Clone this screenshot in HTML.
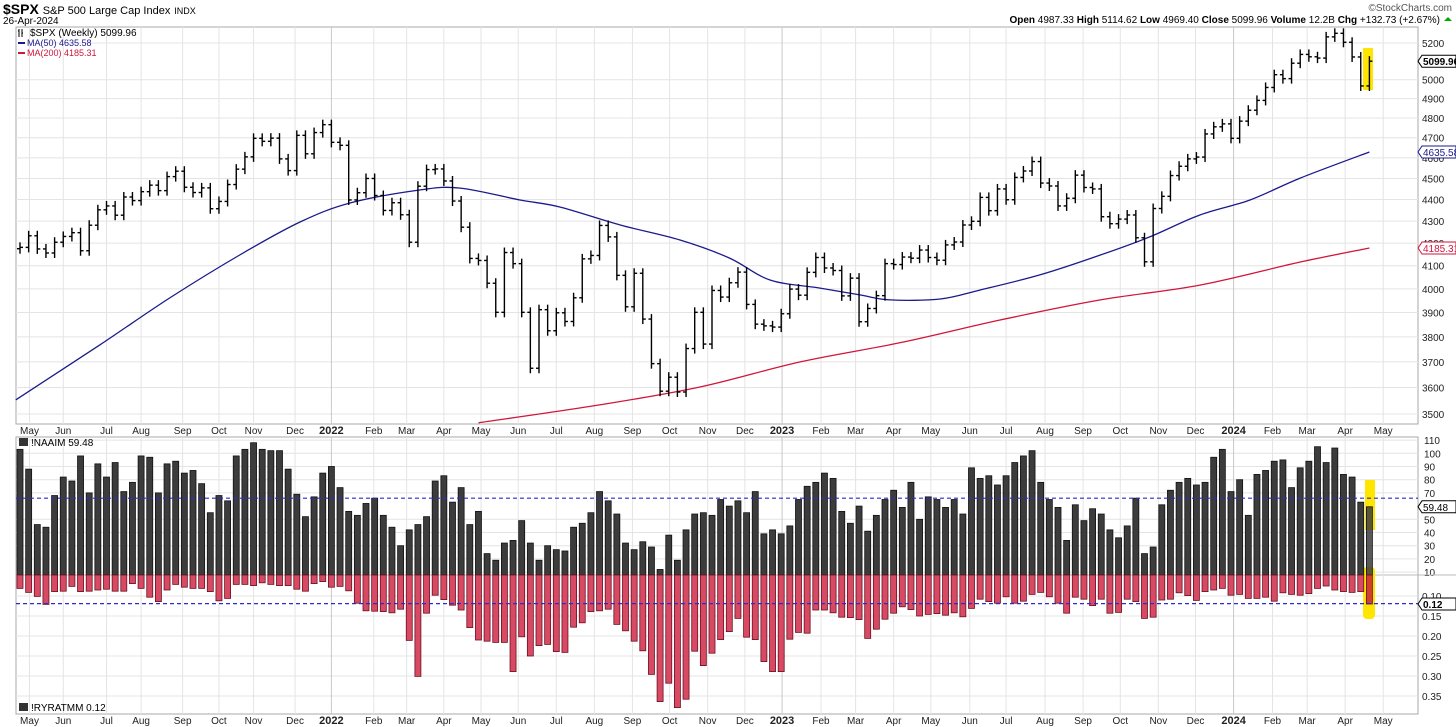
<!DOCTYPE html>
<html><head><meta charset="utf-8">
<style>
html,body{margin:0;padding:0;background:#fff;width:1456px;height:727px;overflow:hidden}
svg text{font-family:"Liberation Sans",sans-serif}
</style></head>
<body>
<svg id="chart" width="1456" height="727" viewBox="0 0 1456 727" xmlns="http://www.w3.org/2000/svg">
<rect x="0" y="0" width="1456" height="727" fill="#fff"/>
<g>
<text x="3" y="14" font-size="14" font-weight="bold" fill="#000">$SPX <tspan font-size="11" font-weight="normal">S&amp;P 500 Large Cap Index</tspan> <tspan font-size="9" font-weight="normal">INDX</tspan></text>
<text x="3" y="24" font-size="10" fill="#000">26-Apr-2024</text>
<text x="1452" y="11" font-size="10" fill="#555" text-anchor="end">©StockCharts.com</text>
<text x="1440" y="23" font-size="10" fill="#000" text-anchor="end"><tspan font-weight="bold">Open</tspan> 4987.33 <tspan font-weight="bold">High</tspan> 5114.62 <tspan font-weight="bold">Low</tspan> 4969.40 <tspan font-weight="bold">Close</tspan> 5099.96 <tspan font-weight="bold">Volume</tspan> 12.2B <tspan font-weight="bold">Chg</tspan> +132.73 (+2.67%)</text>
<polygon points="1444,21 1452,21 1448,17" fill="#0a0"/>
</g>
<g id="grid"></g>
<g id="marks"></g>
<g id="overlay"></g>
</svg>
<script>
// ---- data ----
const closes=[4181,4233,4174,4156,4204,4230,4247,4166,4281,4352,4370,4327,4412,4395,4437,4468,4442,4509,4535,4458,4433,4455,4357,4391,4471,4545,4605,4697,4682,4698,4595,4538,4712,4620,4726,4766,
4677,4662,4398,4432,4500,4419,4349,4385,4329,4204,4463,4543,4546,4488,4393,4272,4132,4123,4024,3901,4158,4109,3901,3675,3912,3825,3899,3863,3962,4130,4145,4280,4228,4058,3924,4067,3873,3693,3586,3640,3583,3753,3901,3771,3993,3965,4026,4072,3934,3852,3845,3840,
3895,3999,3973,4071,4136,4090,4079,3970,4046,3862,3917,3971,4109,4105,4138,4133,4169,4136,4124,4192,4205,4282,4299,4410,4348,4450,4399,4505,4536,4582,4478,4464,4370,4406,4516,4457,4450,4320,4288,4309,4328,4224,4117,4358,4415,4514,4559,4595,4604,4719,4755,4770,
4697,4784,4840,4891,4959,5027,5006,5089,5137,5124,5117,5234,5254,5204,5123,4967,5100];
const firstOpen=4175;
const ma50Weeks=[-0.5,9.2,17.3,25.4,32.4,38.2,46.2,50.9,57.8,62.4,69.4,76.3,82,86.7,92.5,97.1,100.6,106.4,111,117.9,124.9,130.6,136.4,142.2,148,156];
const ma50Vals=[3553,3767,3961,4147,4296,4384,4445,4454,4398,4365,4282,4214,4134,4038,4003,3974,3953,3957,3995,4060,4147,4228,4328,4398,4502,4629];
const ma200Weeks=[53,67,78.6,90.2,101.7,113.3,124.9,136.4,148,156];
const ma200Vals=[3467,3534,3602,3700,3776,3869,3953,4016,4116,4178];
const naaim=[103,88,46,44,68,82,79,98,70,92,82,93,71,78,98,97,70,92,94,85,87,77,55,68,64,98,103,108,103,102,102,88,69,52,67,85,90,74,56,53,62,66,53,44,30,42,46,52,79,83,63,74,46,56,
24,19,32,34,49,32,19,30,27,26,44,47,55,71,64,54,32,27,33,29,12,38,19,42,54,55,53,65,60,64,55,71,39,42,39,45,65,75,78,85,81,56,47,60,41,53,65,72,59,78,50,67,65,
59,65,54,89,81,83,76,83,93,98,102,78,65,59,34,61,49,58,54,42,36,45,66,24,29,61,72,78,81,76,78,97,103,71,80,53,84,87,94,95,74,89,94,105,93,104,84,82,63,59.48];
const ryrat=[.081,.091,.101,.121,.089,.088,.076,.089,.088,.085,.083,.088,.088,.069,.081,.103,.114,.085,.071,.078,.081,.081,.089,.112,.106,.071,.071,.074,.067,.071,.074,.074,.083,.088,.069,.064,.078,.076,.087,.118,.137,.138,.139,.142,.133,.211,.301,.143,.098,.109,.123,.135,.179,.210,
.213,.216,.216,.289,.202,.250,.224,.221,.239,.241,.178,.167,.139,.137,.133,.171,.187,.213,.237,.296,.364,.318,.379,.358,.238,.274,.243,.209,.189,.156,.203,.209,.264,.289,.289,.208,.191,.193,.135,.135,.142,.153,.154,.159,.206,.183,.158,.143,.127,.134,.150,.146,.144,
.148,.142,.152,.131,.108,.114,.118,.102,.118,.113,.096,.091,.102,.118,.143,.103,.108,.124,.108,.143,.141,.108,.114,.156,.153,.110,.108,.092,.099,.111,.089,.085,.081,.098,.096,.106,.106,.103,.113,.092,.096,.098,.094,.081,.075,.085,.089,.091,.089,.12];
const priceTicks=[5200,5000,4900,4800,4700,4600,4500,4400,4300,4200,4100,4000,3900,3800,3700,3600,3500];
const naaimTicks=[110,100,90,80,70,50,40,30,20,10];
const ryratTicks=[0.10,0.15,0.20,0.25,0.30,0.35];
const monthLabels=["May","Jun","Jul","Aug","Sep","Oct","Nov","Dec","2022","Feb","Mar","Apr","May","Jun","Jul","Aug","Sep","Oct","Nov","Dec","2023","Feb","Mar","Apr","May","Jun","Jul","Aug","Sep","Oct","Nov","Dec","2024","Feb","Mar","Apr","May"];
const monthWeeks=[1.1,5,10,14,18.8,23,27,31.8,36,40.9,44.7,49,53.3,57.6,62,66.4,70.8,75.1,79.5,83.8,88.1,92.6,96.6,101,105.3,109.8,114,118.5,122.9,127.2,131.6,135.9,140.3,144.8,148.8,153.2,157.6];
const naaimRef=66, ryratRef=0.119;

// ---- scales ----
const xW=i=>20+i*8.65;
const yP=p=>43+937*Math.log(5200/p);
const yN=v=>585.3-1.32*v;
const yR=v=>556+400*v;
const L=16,R=1418,T1=27,B1=424,T2=437,B2=700,BASE=575;
const NS="http://www.w3.org/2000/svg";
function mk(parent,tag,attrs){const e=document.createElementNS(NS,tag);for(const k in attrs)e.setAttribute(k,attrs[k]);parent.appendChild(e);return e;}
const grid=document.getElementById('grid'),marks=document.getElementById('marks'),ov=document.getElementById('overlay');

let e;
e=mk(grid,'rect',{x:L,y:T1,width:R-L,height:B1-T1,fill:'#fff',stroke:'#aaa'});


e=mk(grid,'rect',{x:L,y:T2,width:R-L,height:B2+14-T2,fill:'#fff',stroke:'#aaa'});



priceTicks.forEach(p=>{const y=yP(p);
 mk(grid,'line',{x1:L,x2:R,y1:y,y2:y,stroke:'#e4e4e4'});
 e=mk(grid,'text',{x:1422,y:y+4,'font-size':10,fill:'#222'});e.textContent=p;
 
 
});
naaimTicks.forEach(v=>{const y=yN(v);
 mk(grid,'line',{x1:L,x2:R,y1:y,y2:y,stroke:'#e4e4e4'});
 e=mk(grid,'text',{x:1424,y:y+4,'font-size':10,fill:'#222'});e.textContent=v;
 
 
});
ryratTicks.forEach(v=>{const y=yR(v);
 mk(grid,'line',{x1:L,x2:R,y1:y,y2:y,stroke:'#e4e4e4'});
 e=mk(grid,'text',{x:1422,y:y+4,'font-size':10,fill:'#222'});e.textContent=v.toFixed(2);
 
 
});
mk(grid,'line',{x1:L,x2:1456,y1:BASE,y2:BASE,stroke:'#bbb'});
monthWeeks.forEach((w,k)=>{const x=xW(w);
 const bold=monthLabels[k].length==4;
 mk(grid,'line',{x1:x,x2:x,y1:T1,y2:B1,stroke:(bold?'#c8c8c8':'#e4e4e4')});
 mk(grid,'line',{x1:x,x2:x,y1:T2,y2:B2+14,stroke:(bold?'#c8c8c8':'#e4e4e4')});
 [431,721].forEach(yy=>{e=mk(grid,'text',{x:x,y:yy+3,'font-size':bold?11:10,'font-weight':bold?'bold':'normal','text-anchor':'middle',fill:'#222'});
  e.textContent=monthLabels[k];
  
  });
});

function maPath(ws,vs){
 const pts=ws.map((w,i)=>[xW(w),Math.min(yP(vs[i]),B1)]);
 let d='M'+pts[0][0].toFixed(1)+','+pts[0][1].toFixed(1);
 for(let i=0;i<pts.length-1;i++){
  const p0=pts[Math.max(0,i-1)],p1=pts[i],p2=pts[i+1],p3=pts[Math.min(pts.length-1,i+2)];
  const c1x=p1[0]+(p2[0]-p0[0])/6,c1y=p1[1]+(p2[1]-p0[1])/6;
  const c2x=p2[0]-(p3[0]-p1[0])/6,c2y=p2[1]-(p3[1]-p1[1])/6;
  d+=` C${c1x.toFixed(1)},${c1y.toFixed(1)} ${c2x.toFixed(1)},${c2y.toFixed(1)} ${p2[0].toFixed(1)},${p2[1].toFixed(1)}`;
 }
 return d;
}
e=mk(marks,'path',{d:maPath(ma50Weeks,ma50Vals),fill:'none',stroke:'#1a1a8c','stroke-width':1.3});


e=mk(marks,'path',{d:maPath(ma200Weeks,ma200Vals),fill:'none',stroke:'#d0163c','stroke-width':1.3});



e=mk(marks,'rect',{x:1363,y:48,width:10,height:42,fill:'#ffe600'});


e=mk(marks,'rect',{x:1365,y:480,width:10,height:50,fill:'#ffe600'});


e=mk(marks,'rect',{x:1363,y:567,width:12,height:52,rx:4,fill:'#ffe600'});



closes.forEach((c,i)=>{const o=i?closes[i-1]:firstOpen;const x=xW(i);
 const hi=yP(Math.max(o,c))-5,lo=yP(Math.min(o,c))+5;
 const g=mk(marks,'g',{stroke:'#000','stroke-width':1.4});
 
 
 mk(g,'line',{x1:x,x2:x,y1:hi,y2:lo});
 mk(g,'line',{x1:x-3,x2:x,y1:yP(o),y2:yP(o)});
 mk(g,'line',{x1:x,x2:x+3,y1:yP(c),y2:yP(c)});
});

naaim.forEach((v,i)=>{const x=xW(i),y=yN(v);
 e=mk(marks,'rect',{x:x-3,y:y,width:6,height:BASE-y,fill:'#3c3c3c',stroke:'#111','stroke-width':0.8,'fill-opacity':i==naaim.length-1?0.85:1});
 
 
});
ryrat.forEach((v,i)=>{const x=xW(i),y=yR(v);
 e=mk(marks,'rect',{x:x-3,y:BASE,width:6,height:Math.max(0,y-BASE),fill:i==ryrat.length-1?'#d0402a':'#d84a64',stroke:'#6a1020','stroke-width':0.8});
 
 
});
e=mk(ov,'line',{x1:L,x2:1418,y1:yN(naaimRef),y2:yN(naaimRef),stroke:'#2b2bd0','stroke-dasharray':'4,3','stroke-width':1.2});


e=mk(ov,'line',{x1:L,x2:1418,y1:yR(ryratRef),y2:yR(ryratRef),stroke:'#2b2bd0','stroke-dasharray':'4,3','stroke-width':1.2});



function tag(y,txt,col,bold,name){
 const g=mk(ov,'g',{});
 
 
 mk(g,'path',{d:`M1418,${y} L1422,${y-6} L1456,${y-6} L1456,${y+6} L1422,${y+6} Z`,fill:'#fff',stroke:col});
 const t=mk(g,'text',{x:1423,y:y+4,'font-size':10,'font-weight':bold?'bold':'normal',fill:bold?'#000':col});t.textContent=txt;
}
tag(yP(closes[closes.length-1]),'5099.96','#000',true,'last-price-tag');
tag(yP(ma50Vals[ma50Vals.length-1]),'4635.58','#1a1a8c',false,'ma50-tag');
tag(yP(ma200Vals[ma200Vals.length-1]),'4185.31','#d0163c',false,'ma200-tag');
tag(yN(naaim[naaim.length-1]),'59.48','#000',false,'naaim-tag');
tag(yR(ryrat[ryrat.length-1]),'0.12','#000',true,'ryratmm-tag');

function txt(x,y,s,col,size,name){const t=mk(ov,'text',{x:x,y:y,'font-size':size,fill:col});t.textContent=s;
 
 }
txt(30,36,'$SPX (Weekly) 5099.96','#000',10,'legend-price');
mk(ov,'path',{d:'M19,29 v8 M18,31 h1 M22,29 v8 M22,33 h1',stroke:'#000','stroke-width':1,fill:'none'});
mk(ov,'line',{x1:18,x2:25,y1:43,y2:43,stroke:'#1a1a8c','stroke-width':2});
txt(27,46,'MA(50) 4635.58','#1a1a8c',9,'legend-ma50');
mk(ov,'line',{x1:18,x2:25,y1:53,y2:53,stroke:'#d0163c','stroke-width':2});
txt(27,56,'MA(200) 4185.31','#d0163c',9,'legend-ma200');
txt(31,446,'!NAAIM 59.48','#000',10,'legend-naaim');
txt(31,711,'!RYRATMM 0.12','#000',10,'legend-ryratmm');
mk(ov,'rect',{x:19,y:438,width:9,height:8,fill:'#333'});
mk(ov,'rect',{x:19,y:703,width:9,height:8,fill:'#333'});
</script>
</body></html>
